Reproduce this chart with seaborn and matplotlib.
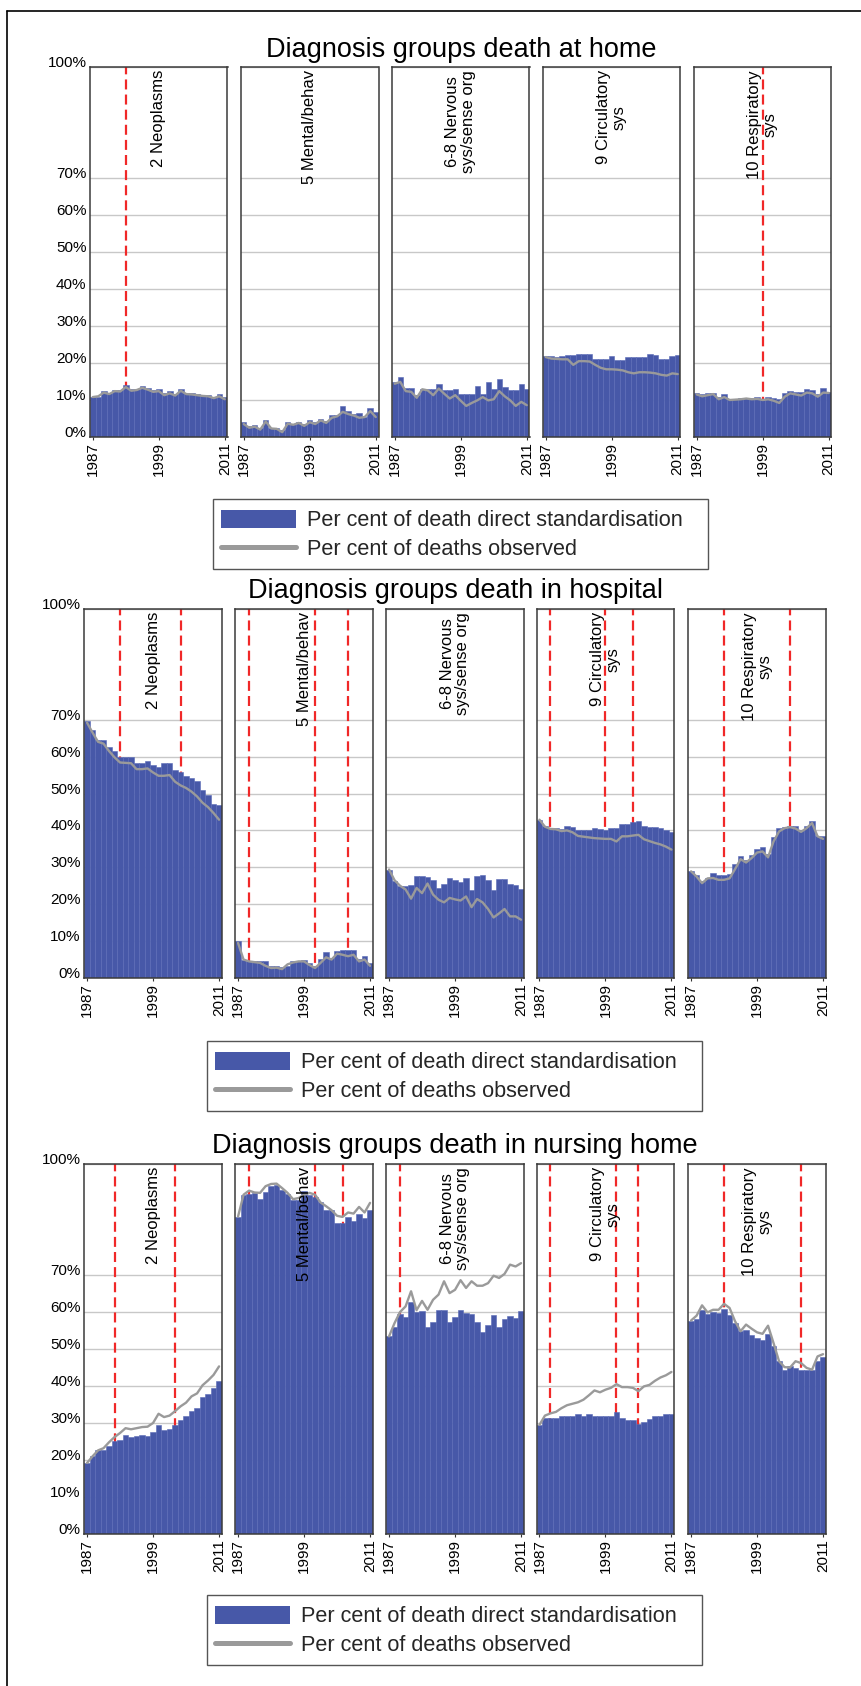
import numpy as np
import pandas as pd
import matplotlib
matplotlib.use("Agg")
import matplotlib.pyplot as plt
from matplotlib.patches import Patch, Rectangle
from matplotlib.lines import Line2D
import seaborn as sns

sns.set_theme(style="white")
plt.rcParams["font.family"] = ["Liberation Sans", "DejaVu Sans"]

# ---------------- data ----------------
years = list(range(1987, 2012))
groups = ["2 Neoplasms", "5 Mental/behav", "6-8 Nervous\nsys/sense org",
          "9 Circulatory\nsys", "10 Respiratory\nsys"]
section_titles = ["Diagnosis groups death at home",
                  "Diagnosis groups death in hospital",
                  "Diagnosis groups death in nursing home"]
tick_years = [1987, 1999, 2011]
ytick_vals = [0, 10, 20, 30, 40, 50, 60, 70, 100]
ytick_labels = ["0%", "10%", "20%", "30%", "40%", "50%", "60%", "70%", "100%"]
legend_labels = ["Per cent of death direct standardisation",
                 "Per cent of deaths observed"]

# death at home
home_neo_std = [10.8, 10.8, 12.4, 11.9, 12.8, 12.8, 14.0, 12.9, 13.0, 13.8, 13.2, 12.6, 13.1,
                11.9, 12.3, 11.7, 13.1, 12.0, 12.0, 11.7, 11.4, 11.4, 10.8, 11.7, 10.8]
home_neo_obs = [10.8, 11.0, 12.0, 11.6, 12.4, 12.3, 13.5, 12.5, 12.7, 13.3, 12.8, 12.2, 12.4,
                11.3, 11.8, 11.2, 12.5, 11.6, 11.5, 11.3, 11.1, 11.0, 10.5, 11.0, 10.2]
home_men_std = [4.1, 2.9, 3.2, 2.3, 4.5, 2.4, 2.4, 1.8, 4.1, 3.6, 4.1, 3.4, 4.5,
                4.1, 5.0, 4.3, 5.9, 5.9, 8.4, 6.9, 6.3, 6.6, 5.4, 7.9, 6.7]
home_men_obs = [3.5, 2.5, 2.8, 2.0, 4.2, 2.3, 2.2, 1.3, 3.6, 3.3, 3.8, 3.0, 4.0,
                3.5, 4.5, 3.8, 5.2, 5.6, 6.8, 6.2, 5.8, 5.2, 5.4, 7.0, 5.4]
home_ner_std = [14.9, 16.2, 13.3, 13.3, 11.3, 13.0, 13.0, 13.0, 14.4, 12.8, 12.8, 13.0, 11.7,
                11.7, 11.7, 13.8, 11.7, 15.0, 12.9, 15.6, 13.5, 12.8, 12.8, 14.4, 12.9]
home_ner_obs = [14.4, 14.9, 12.4, 12.2, 10.6, 12.9, 12.6, 11.3, 13.1, 11.7, 10.4, 11.3, 9.8,
                8.4, 9.2, 9.9, 10.8, 9.9, 10.2, 12.4, 11.0, 9.9, 8.4, 9.5, 8.6]
home_cir_std = [21.8, 21.8, 21.7, 22.0, 22.1, 22.1, 22.3, 22.3, 22.3, 21.0, 21.0, 21.0, 21.8,
                20.7, 20.7, 21.6, 21.6, 21.6, 21.6, 22.5, 22.1, 21.2, 21.1, 22.0, 22.1]
home_cir_obs = [21.6, 21.2, 21.1, 21.0, 21.0, 19.5, 20.5, 20.5, 20.4, 19.5, 18.7, 18.3, 18.3,
                18.2, 18.0, 17.5, 17.2, 17.5, 17.5, 17.4, 17.2, 16.8, 16.6, 17.2, 17.0]
home_res_std = [11.9, 11.5, 11.9, 11.9, 10.8, 11.5, 10.4, 10.4, 10.5, 10.6, 10.5, 10.8, 10.4,
                10.9, 10.6, 10.2, 11.8, 12.4, 12.2, 12.2, 13.0, 12.8, 11.5, 13.3, 12.2]
home_res_obs = [11.5, 11.0, 11.3, 11.6, 10.2, 10.8, 10.0, 10.1, 10.2, 10.4, 10.2, 10.3, 10.0,
                10.2, 9.8, 9.2, 10.9, 11.8, 11.5, 11.2, 12.0, 11.8, 10.9, 12.0, 11.9]

# death in hospital
hosp_neo_std = [69.6, 67.3, 64.6, 64.6, 62.5, 61.4, 60.0, 59.9, 59.9, 58.4, 58.4, 58.7, 57.6,
                57.2, 58.3, 58.3, 56.5, 55.7, 54.8, 54.2, 53.3, 50.9, 49.7, 47.2, 46.8]
hosp_neo_obs = [69.2, 66.5, 64.0, 63.5, 61.5, 59.8, 58.4, 58.3, 58.2, 56.6, 56.6, 56.8, 55.7,
                54.8, 54.8, 55.0, 53.2, 52.2, 51.5, 50.5, 49.2, 47.5, 46.3, 44.7, 42.9]
hosp_men_std = [9.9, 5.0, 4.5, 4.7, 4.5, 4.7, 3.2, 3.2, 3.0, 3.3, 4.5, 4.7, 5.0,
                4.2, 3.2, 5.1, 7.0, 5.4, 7.4, 7.5, 7.5, 7.7, 5.1, 6.0, 4.2]
hosp_men_obs = [9.5, 5.0, 4.5, 4.3, 4.1, 3.3, 2.7, 2.8, 2.4, 3.7, 4.2, 4.5, 4.5,
                3.5, 2.7, 4.1, 5.6, 5.0, 6.6, 6.3, 5.9, 6.3, 4.5, 5.0, 3.3]
hosp_ner_std = [29.4, 26.2, 25.0, 25.0, 25.3, 27.7, 27.7, 27.5, 26.5, 24.4, 25.6, 27.1, 26.6,
                25.9, 27.1, 23.9, 27.7, 28.0, 26.6, 23.8, 26.8, 26.8, 25.5, 25.1, 24.2]
hosp_ner_obs = [29.4, 26.5, 25.0, 24.0, 21.5, 24.4, 23.0, 25.6, 22.6, 21.2, 20.5, 21.7, 21.3,
                21.0, 22.1, 19.2, 21.4, 20.5, 18.7, 16.4, 17.5, 18.7, 16.7, 16.7, 15.8]
hosp_cir_std = [42.9, 41.1, 40.6, 40.6, 40.4, 41.1, 40.9, 40.0, 40.0, 40.0, 40.6, 40.4, 40.0,
                40.6, 40.6, 41.6, 41.6, 42.2, 42.5, 41.1, 40.9, 40.9, 40.6, 40.0, 39.7]
hosp_cir_obs = [42.9, 41.0, 40.4, 40.3, 39.8, 40.0, 39.5, 38.5, 38.3, 38.1, 37.9, 37.8, 37.7,
                37.7, 37.0, 38.4, 38.4, 38.6, 38.8, 37.6, 37.1, 36.6, 36.2, 35.6, 34.8]
hosp_res_std = [28.9, 28.0, 26.2, 27.1, 28.5, 28.0, 28.0, 28.2, 31.0, 33.0, 32.1, 33.2, 35.0,
                35.4, 33.7, 38.1, 40.6, 40.9, 41.3, 41.1, 40.2, 41.1, 42.6, 38.6, 38.6]
hosp_res_obs = [28.9, 27.5, 25.7, 27.0, 27.1, 26.6, 26.6, 27.0, 29.5, 32.2, 31.3, 32.5, 34.0,
                34.3, 32.7, 37.0, 39.7, 40.6, 40.9, 40.5, 39.6, 40.6, 42.0, 38.4, 37.7]

# death in nursing home
nh_neo_std = [19.2, 21.0, 22.6, 22.6, 23.9, 25.2, 25.5, 26.8, 26.2, 26.6, 26.8, 26.6, 27.7,
              29.5, 28.2, 28.4, 29.4, 30.9, 32.0, 33.2, 34.1, 36.9, 37.9, 39.5, 41.3]
nh_neo_obs = [19.2, 21.0, 22.6, 23.2, 24.8, 26.2, 27.3, 28.6, 28.3, 28.6, 28.9, 29.0, 30.0,
              32.5, 31.6, 32.0, 33.2, 34.5, 35.5, 37.2, 38.0, 40.2, 41.5, 43.0, 45.3]
nh_men_std = [85.7, 91.7, 91.9, 92.2, 90.5, 92.3, 94.0, 94.4, 92.9, 92.0, 90.4, 90.4, 92.6,
              91.7, 91.1, 89.6, 87.7, 87.7, 84.1, 84.1, 85.7, 84.7, 86.6, 85.4, 87.5]
nh_men_obs = [85.8, 91.7, 92.8, 92.3, 92.2, 94.0, 94.6, 94.7, 93.5, 92.2, 90.5, 90.8, 91.7,
              92.2, 91.7, 89.6, 88.6, 87.5, 86.0, 85.7, 86.9, 86.6, 88.4, 86.9, 89.5]
nh_ner_std = [53.4, 55.9, 59.5, 58.6, 62.7, 59.9, 60.2, 55.9, 57.2, 60.6, 60.6, 57.3, 58.6,
              60.5, 59.7, 59.5, 57.2, 54.5, 56.6, 59.3, 55.9, 58.1, 59.0, 58.4, 60.4]
nh_ner_obs = [53.4, 57.0, 60.0, 61.5, 65.6, 60.5, 63.0, 60.6, 63.3, 64.7, 68.3, 65.1, 66.0,
              68.6, 66.5, 68.3, 67.1, 67.1, 67.8, 69.8, 69.2, 70.3, 72.8, 72.3, 73.2]
nh_cir_std = [29.5, 31.4, 31.4, 31.4, 31.8, 32.0, 31.8, 32.4, 32.0, 32.3, 32.0, 31.8, 31.8,
              31.8, 32.9, 31.4, 30.7, 30.7, 29.8, 30.2, 31.1, 31.8, 32.0, 32.3, 32.4]
nh_cir_obs = [29.5, 32.0, 32.6, 33.0, 34.0, 34.8, 35.2, 35.6, 36.3, 37.5, 38.8, 38.3, 39.0,
              39.5, 40.5, 39.7, 39.7, 39.5, 38.6, 39.9, 40.3, 41.4, 42.3, 42.9, 43.8]
nh_res_std = [57.5, 58.1, 60.5, 59.5, 59.9, 59.7, 60.8, 59.3, 57.0, 55.0, 55.2, 53.9, 53.0,
              52.5, 54.1, 50.7, 46.7, 44.2, 45.5, 44.9, 44.4, 44.2, 44.2, 46.7, 47.8]
nh_res_obs = [57.7, 59.0, 61.8, 59.9, 60.6, 60.6, 62.2, 61.1, 57.5, 54.8, 56.6, 55.5, 54.5,
              54.1, 56.3, 51.6, 46.7, 45.1, 45.0, 46.7, 46.2, 44.9, 44.4, 48.0, 48.6]

# red dashed marker years
home_marks = [[1993], [], [], [], [1999]]
hosp_marks = [[1993, 2004], [1989, 2001, 2007], [], [1989, 1999, 2004], [1993, 2005]]
nh_marks = [[1992, 2003], [1989, 2001, 2006], [1989], [1989, 2001, 2005], [1993, 2007]]

sections = [
    ([home_neo_std, home_men_std, home_ner_std, home_cir_std, home_res_std],
     [home_neo_obs, home_men_obs, home_ner_obs, home_cir_obs, home_res_obs], home_marks),
    ([hosp_neo_std, hosp_men_std, hosp_ner_std, hosp_cir_std, hosp_res_std],
     [hosp_neo_obs, hosp_men_obs, hosp_ner_obs, hosp_cir_obs, hosp_res_obs], hosp_marks),
    ([nh_neo_std, nh_men_std, nh_ner_std, nh_cir_std, nh_res_std],
     [nh_neo_obs, nh_men_obs, nh_ner_obs, nh_cir_obs, nh_res_obs], nh_marks),
]

# ---------------- styling / layout ----------------
BAR = "#4758a8"
BAR_EDGE = "#5a6ab6"
GREY = "#9a9a9a"
RED = "#f02828"
W, H = 862, 1686

sec_top = [67, 609, 1164]
sec_bottom = [437, 978, 1534]
sec_lefts = [[90, 241, 392, 543, 694],
             [84.3, 235.3, 386.3, 536.7, 688.3],
             [84.3, 235.3, 386.3, 536.7, 688.3]]
panel_w = 137.5
title_y = [57, 598, 1153]
title_x = [461, 455, 455]
legend_box = [(213, 499, 495, 70), (207, 1041, 495, 70), (207, 1595, 495, 70)]

fig = plt.figure(figsize=(W / 100, H / 100), dpi=100)
fig.patch.set_facecolor("white")


def rect(left, top, width, height):
    return [left / W, 1 - (top + height) / H, width / W, height / H]


for s, (stds, obss, marks) in enumerate(sections):
    ph = sec_bottom[s] - sec_top[s]
    for p in range(5):
        ax = fig.add_axes(rect(sec_lefts[s][p], sec_top[s], panel_w, ph))
        df = pd.DataFrame({"year": years, "std": stds[p], "obs": obss[p]})
        for yr in marks[p]:
            ax.axvline(yr, color=RED, lw=1.6, dashes=(4.5, 2.3), zorder=1.5)
        sns.barplot(data=df, x="year", y="std", native_scale=True, width=1.0,
                    color=BAR, saturation=1, edgecolor=BAR_EDGE, linewidth=0.4,
                    errorbar=None, ax=ax, zorder=2)
        sns.lineplot(data=df, x="year", y="obs", color=GREY, linewidth=1.7,
                     ax=ax, zorder=3)
        ax.set_xlim(1986.5, 2011.5)
        ax.set_ylim(0, 100)
        ax.set_yticks(ytick_vals)
        ax.set_axisbelow(True)
        ax.grid(axis="y", color="#c8c8c8", lw=1.0)
        ax.grid(axis="x", visible=False)
        ax.set_xticks(tick_years)
        ax.set_xticklabels([str(y) for y in tick_years], rotation=90)
        ax.set_xlabel("")
        ax.set_ylabel("")
        if p == 0:
            ax.set_yticklabels(ytick_labels)
            for t in ax.get_yticklabels():
                t.set_va("baseline")
        else:
            ax.set_yticklabels([])
        ax.tick_params(axis="x", length=2.5, width=0.8, color="#333333", pad=1,
                       labelsize=11, labelcolor="black", bottom=True)
        ax.tick_params(axis="y", length=0, pad=2.5, labelsize=11, labelcolor="black")
        for sp in ax.spines.values():
            sp.set_color("#3a3a3a")
            sp.set_linewidth(1.1)
            sp.set_visible(True)
        ax.text(0.5, 1 - 3 / ph, groups[p], transform=ax.transAxes, rotation=90,
                ha="center", va="top", multialignment="center", linespacing=1.05,
                fontsize=12, color="black", zorder=6)
        if ax.get_legend() is not None:
            ax.get_legend().remove()

    fig.text(title_x[s] / W, 1 - title_y[s] / H, section_titles[s], ha="center",
             va="baseline", fontsize=19.5, color="black")

    l, t, w, h = legend_box[s]
    fig.add_artist(Rectangle((l / W, 1 - (t + h) / H), w / W, h / H,
                             transform=fig.transFigure, fill=False,
                             edgecolor="#555555", lw=1.0))
    handles = [Patch(facecolor=BAR, edgecolor="none"),
               Line2D([], [], color=GREY, lw=3.6)]
    fig.legend(handles, legend_labels, loc="upper left",
               bbox_to_anchor=((l + 8) / W, 1 - (t + 10.5) / H),
               frameon=False, borderpad=0, borderaxespad=0, handlelength=3.45,
               handleheight=0.93, handletextpad=0.5, labelspacing=0.35,
               fontsize=15.6)

# outer frame (left and top edges visible)
fig.add_artist(Line2D([7 / W, 7 / W], [0, 1 - 11 / H], transform=fig.transFigure,
                      color="black", lw=1.2))
fig.add_artist(Line2D([7 / W, 1], [1 - 11 / H, 1 - 11 / H], transform=fig.transFigure,
                      color="black", lw=1.2))

fig.savefig("out.png", dpi=100, facecolor="white")
